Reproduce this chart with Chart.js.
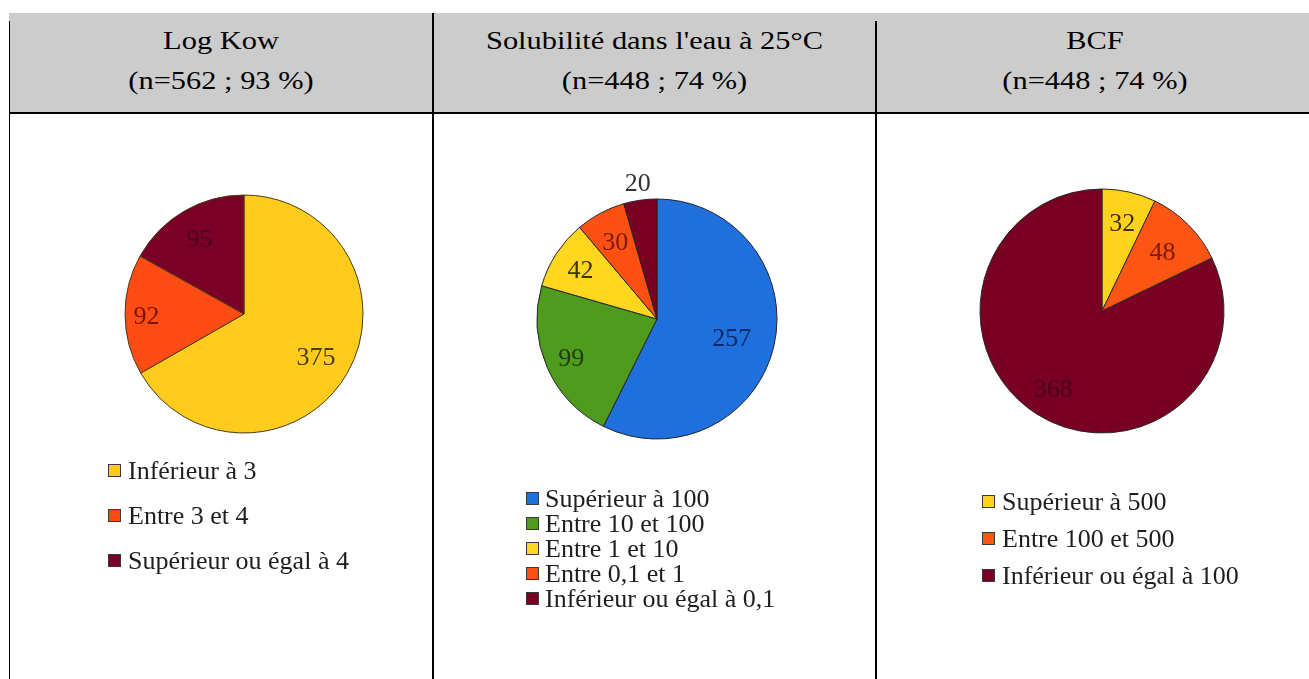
<!DOCTYPE html>
<html><head><meta charset="utf-8">
<script src="https://cdn.jsdelivr.net/npm/chart.js@4.4.0/dist/chart.umd.min.js"></script>
<style>
html,body{margin:0;padding:0;background:#fff;width:1309px;height:679px;overflow:hidden;position:relative;font-family:'Liberation Serif','Times New Roman',serif;}
.abs{position:absolute}
.head{position:absolute;top:21px;font-size:26px;line-height:40px;text-align:center;color:#000;transform:scaleX(1.17);white-space:nowrap}
canvas{position:absolute;left:0;top:0}
</style></head><body>
<div class="abs" style="left:9px;top:13px;width:1300px;height:100px;background:#cccccc"></div>
<div class="abs" style="left:9px;top:112px;width:1300px;height:2px;background:#000"></div>
<div class="abs" style="left:9px;top:21px;width:1px;height:658px;background:#000"></div>
<div class="abs" style="left:432px;top:13px;width:2px;height:666px;background:#000"></div>
<div class="abs" style="left:875px;top:21px;width:2px;height:658px;background:#000"></div>
<div id="heads"></div>
<canvas id="c1" width="1309" height="679"></canvas>
<canvas id="c2" width="1309" height="679"></canvas>
<canvas id="c3" width="1309" height="679"></canvas>
<script>
// ---- data ----
const headerTitles = ["Log Kow", "Solubilité dans l'eau à 25°C", "BCF"];
const headerCounts = ["(n=562 ; 93 %)", "(n=448 ; 74 %)", "(n=448 ; 74 %)"];
const kowLabels = ['Inférieur à 3', 'Entre 3 et 4', 'Supérieur ou égal à 4'];
const kowValues = [375, 92, 95];
const solLabels = ['Supérieur à 100', 'Entre 10 et 100', 'Entre 1 et 10', 'Entre 0,1 et 1', 'Inférieur ou égal à 0,1'];
const solValues = [257, 99, 42, 30, 20];
const bcfLabels = ['Supérieur à 500', 'Entre 100 et 500', 'Inférieur ou égal à 100'];
const bcfValues = [32, 48, 368];

// ---- header cells ----
const colBounds = [[9, 433], [433, 876], [876, 1314]];
const heads = document.getElementById('heads');
headerTitles.forEach((t, i) => {
  const d = document.createElement('div');
  d.className = 'head';
  d.style.left = colBounds[i][0] + 'px';
  d.style.width = (colBounds[i][1] - colBounds[i][0]) + 'px';
  const a = document.createElement('div'); a.textContent = t;
  const b = document.createElement('div'); b.textContent = headerCounts[i];
  d.appendChild(a); d.appendChild(b);
  heads.appendChild(d);
});

const FONT = "26px 'Liberation Serif', 'Times New Roman', serif";

const decoPlugin = {
  id: 'pieDeco',
  afterDatasetsDraw(chart, args, opts) {
    const ctx = chart.ctx;
    const meta = chart.getDatasetMeta(0);
    const ds = chart.data.datasets[0];
    ctx.save();
    ctx.font = FONT;
    ctx.textBaseline = 'alphabetic';
    ctx.textAlign = 'center';
    meta.data.forEach((arc, i) => {
      const p = arc.getProps(['x', 'y', 'startAngle', 'endAngle', 'outerRadius'], true);
      const mid = (p.startAngle + p.endAngle) / 2;
      const f = opts.labelFactors[i];
      ctx.fillStyle = opts.labelColors[i];
      ctx.fillText(String(ds.data[i]), p.x + Math.cos(mid) * p.outerRadius * f, p.y + Math.sin(mid) * p.outerRadius * f + 9);
    });
    const L = opts.legend;
    ctx.textAlign = 'left';
    chart.data.labels.forEach((lab, i) => {
      const yy = L.y + i * L.gap;
      ctx.fillStyle = ds.backgroundColor[i];
      ctx.fillRect(L.x, yy - 6, 13, 13);
      ctx.strokeStyle = '#3a3a3a';
      ctx.lineWidth = 1;
      ctx.strokeRect(L.x + 0.5, yy - 5.5, 12, 12);
      ctx.fillStyle = '#1e1e1e';
      ctx.fillText(lab, L.x + L.textDx, yy + 8.5);
    });
    ctx.restore();
  }
};

function makePie(id, labels, values, cfg) {
  const W = 1309, H = 679, half = 130;
  return new Chart(document.getElementById(id), {
    type: 'pie',
    data: {
      labels: labels,
      datasets: [{
        data: values,
        backgroundColor: cfg.colors,
        borderColor: cfg.border,
        borderWidth: 1,
        radius: cfg.r,
        hoverOffset: 0
      }]
    },
    options: {
      responsive: false,
      animation: false,
      layout: { padding: { left: cfg.cx - half, right: W - cfg.cx - half, top: cfg.cy - half, bottom: H - cfg.cy - half } },
      plugins: {
        legend: { display: false },
        tooltip: { enabled: false },
        pieDeco: { labelFactors: cfg.labelFactors, labelColors: cfg.labelColors, legend: cfg.legend }
      }
    },
    plugins: [decoPlugin]
  });
}

function drawAll() {
  makePie('c1', kowLabels, kowValues, {
    cx: 244, cy: 314, r: 119, border: '#4a3a12',
    colors: ['#FFCC1E', '#FF4C14', '#7A0028'],
    labelColors: ['#4d3d08', '#7a1400', '#4a0018'],
    labelFactors: [0.70, 0.82, 0.74],
    legend: { x: 108, y: 470, gap: 45, textDx: 20 }
  });
  makePie('c2', solLabels, solValues, {
    cx: 657, cy: 319, r: 120, border: '#262626',
    colors: ['#1F6FDC', '#4F9B1E', '#FFD71E', '#FF5014', '#780022'],
    labelColors: ['#0d2a66', '#1f3d0a', '#3d3300', '#7a1a00', '#333333'],
    labelFactors: [0.64, 0.78, 0.76, 0.74, 1.15],
    legend: { x: 526, y: 498, gap: 25, textDx: 19 }
  });
  makePie('c3', bcfLabels, bcfValues, {
    cx: 1102, cy: 311, r: 122, border: '#2b2b2b',
    colors: ['#FFD21E', '#FF5514', '#780022'],
    labelColors: ['#3d3000', '#7a1a00', '#4a0016'],
    labelFactors: [0.75, 0.70, 0.75],
    legend: { x: 982, y: 501, gap: 37, textDx: 20 }
  });
}
if (document.fonts && document.fonts.load) {
  document.fonts.load(FONT).then(drawAll, drawAll);
} else { drawAll(); }
</script>
</body></html>
